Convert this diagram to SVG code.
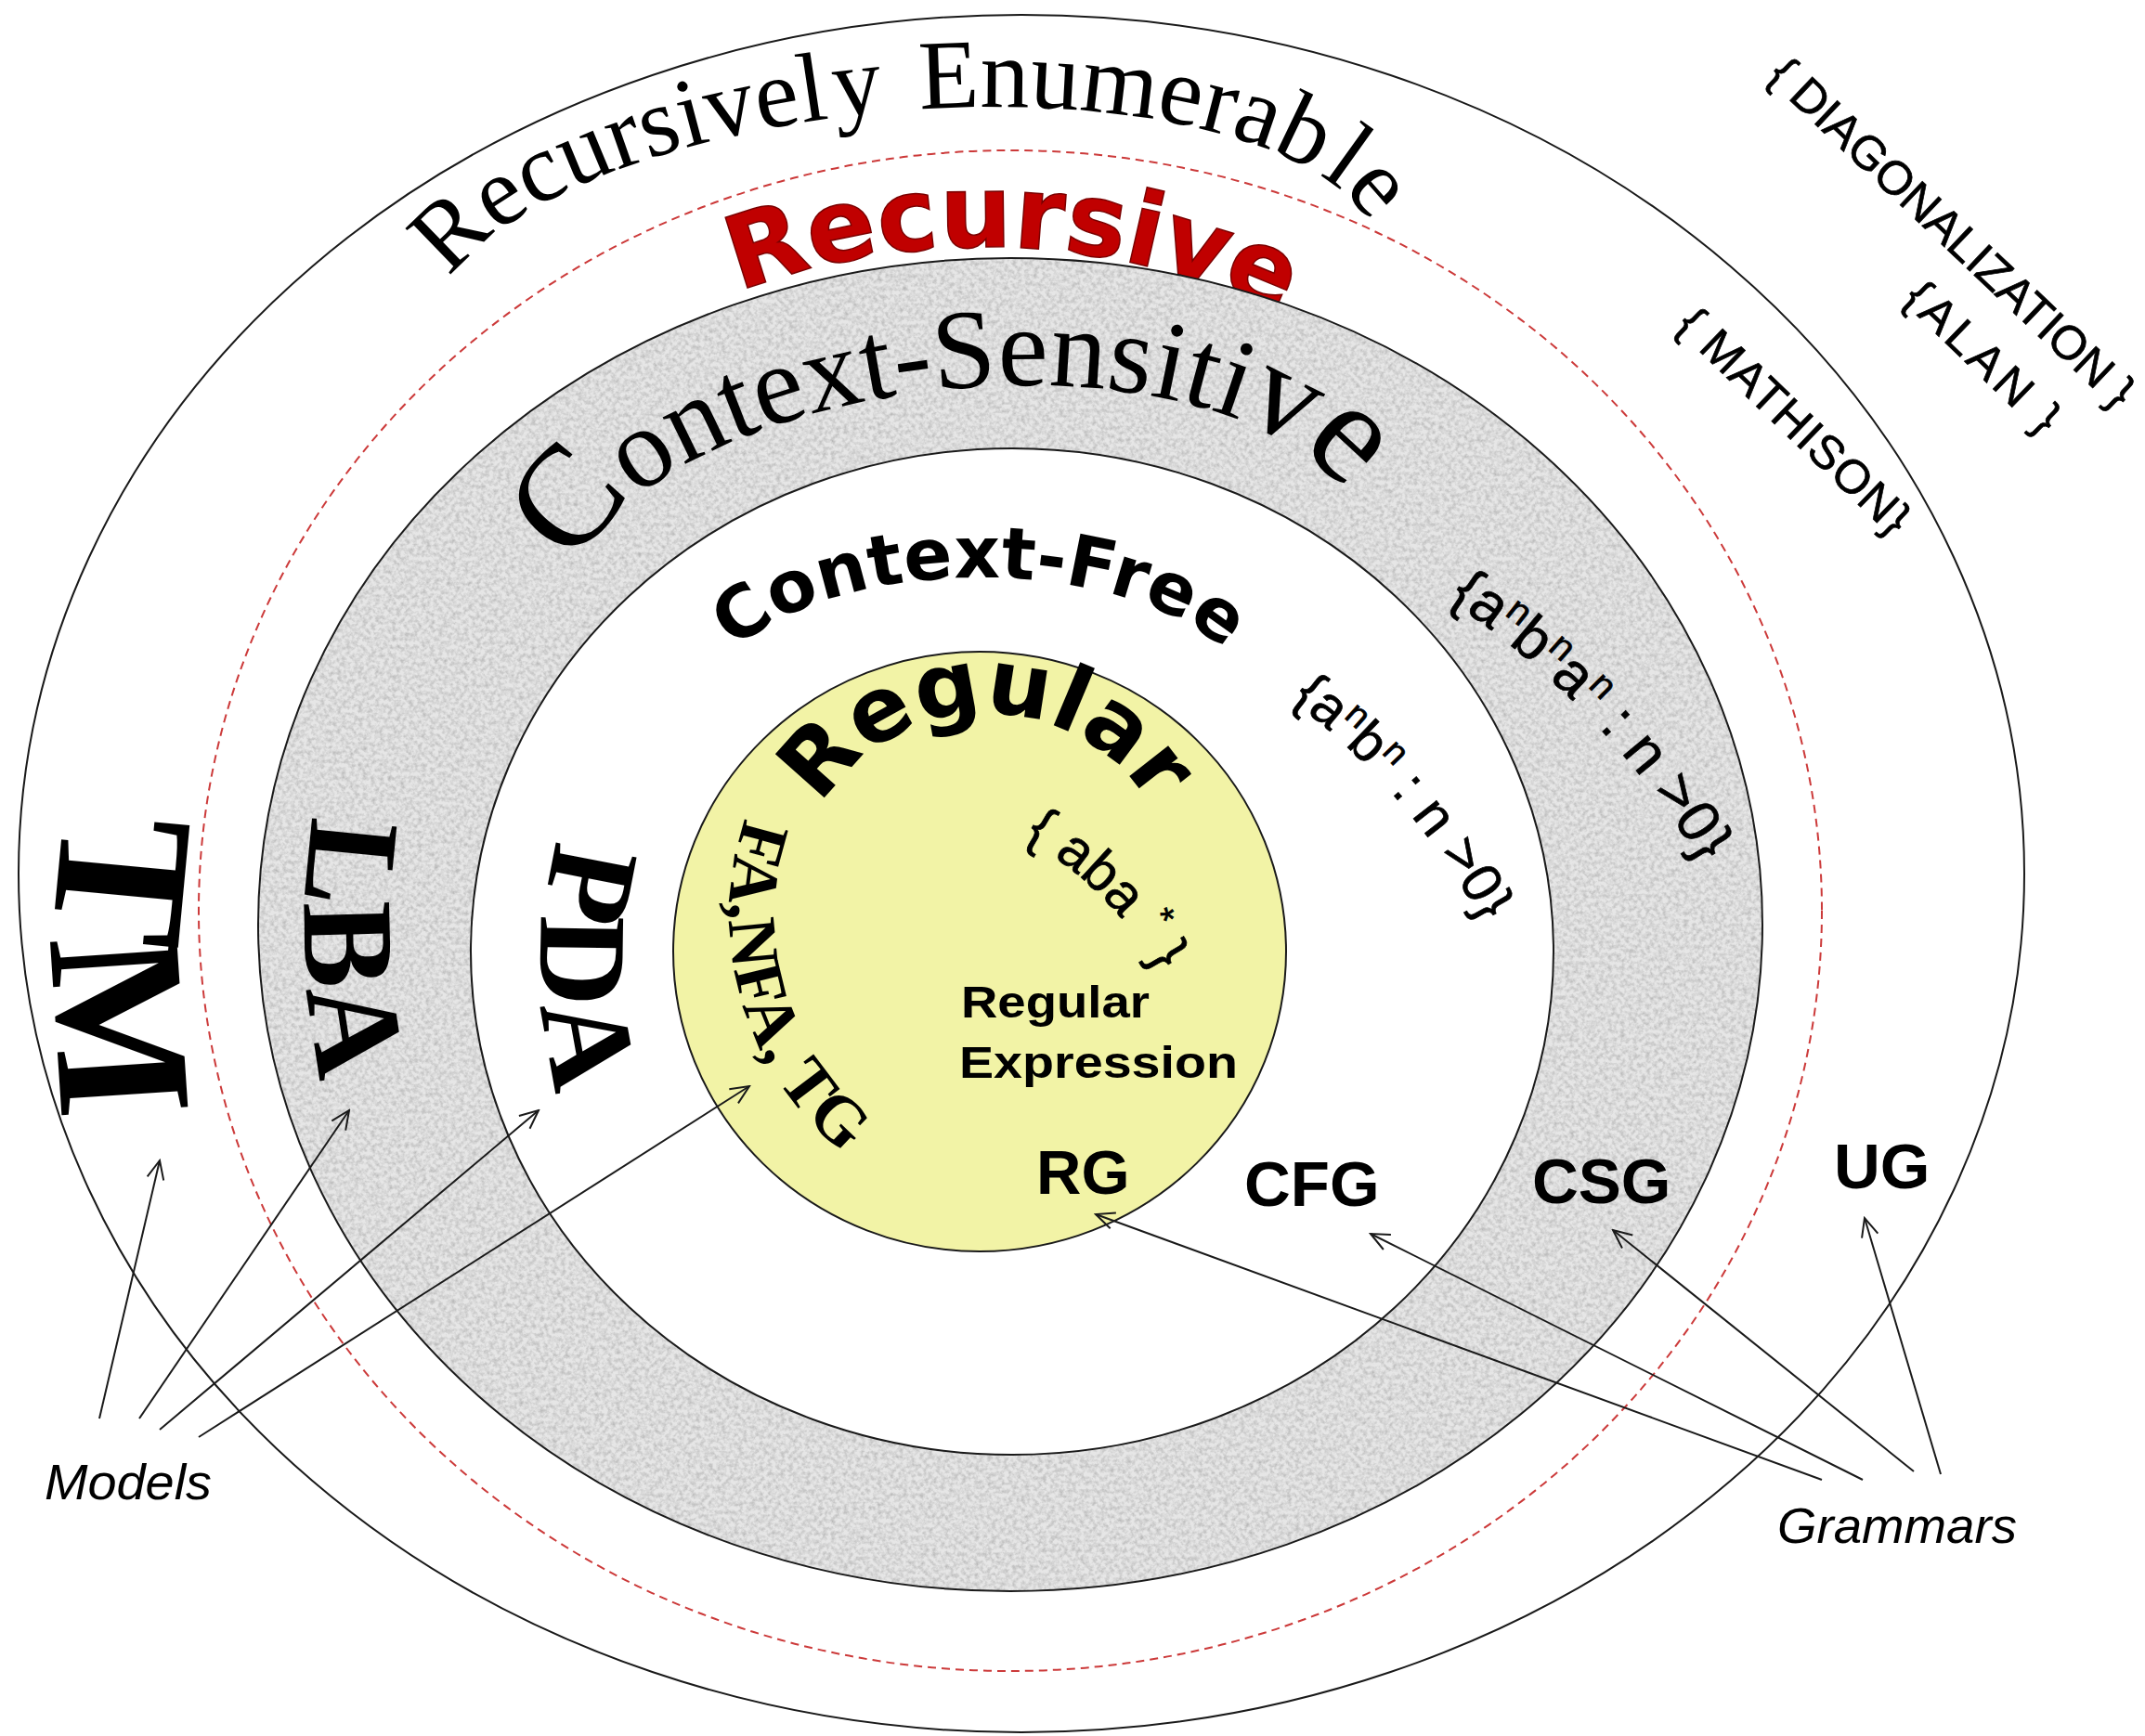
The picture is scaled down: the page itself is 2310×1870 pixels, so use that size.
<svg xmlns="http://www.w3.org/2000/svg" width="2310" height="1870" viewBox="0 0 2310 1870">
  <defs>
    <style>
      .ring{fill:none;stroke:#1a1a1a;stroke-width:2}
      .serif{font-family:"Liberation Serif","Times New Roman",serif;fill:#000}
      .sans{font-family:"Liberation Sans",Arial,sans-serif;fill:#000}
      .small{font-family:"Liberation Sans",Arial,sans-serif;fill:#000;stroke:#000;stroke-width:0.7}
      .heavy{font-family:"DejaVu Sans","Liberation Sans",Arial,sans-serif;font-weight:bold;fill:#000}
      .conn{fill:none;stroke:#1a1a1a;stroke-width:2;marker-end:url(#open)}
      .lbl{font-family:"Liberation Sans",Arial,sans-serif;font-weight:bold;fill:#000}
    </style>
    <marker id="open" viewBox="0 0 24 24" refX="22" refY="12" markerWidth="24" markerHeight="24" markerUnits="userSpaceOnUse" orient="auto">
      <path d="M2 3 L22 12 L2 21" fill="none" stroke="#1a1a1a" stroke-width="2"/>
    </marker>
    <!-- granite-like speckle for the context-sensitive band -->
    <filter id="grain" x="0" y="0" width="1" height="1" color-interpolation-filters="sRGB">
      <feTurbulence type="fractalNoise" baseFrequency="0.22" numOctaves="3" seed="7" result="noise"/>
      <feColorMatrix in="noise" type="matrix" values="0 0 0 0 0.68  0 0 0 0 0.68  0 0 0 0 0.68  1.5 0 0 0 -0.56" result="dark"/>
      <feComposite in="dark" in2="SourceGraphic" operator="in" result="darkIn"/>
      <feMerge><feMergeNode in="SourceGraphic"/><feMergeNode in="darkIn"/></feMerge>
    </filter>
    <!-- baselines for curved labels -->
    <path id="p-re" d="M 465.2 347.1 A 512.7 200.7 -5 0 1 1482.8 258.1"/>
    <path id="p-rec" d="M 419.1 626.4 A 750 750 0 0 1 1717.8 655.8"/>
    <path id="p-cs" d="M 612.3 640.7 A 430 207 -5.7 0 1 1460.7 556.1"/>
    <path id="p-cf" d="M 765.5 738.5 A 294 141 0 0 1 1344.5 738.5"/>
    <path id="p-reg" d="M 857.2 939.9 A 208 208 0 0 1 1266.8 939.9"/>
    <path id="p-tm" d="M 120.8 683.6 A 1042 1042 0 0 0 120.8 1396.4"/>
    <path id="p-lba" d="M 366.6 760.7 A 762 762 0 0 0 382 1281.7"/>
    <path id="p-pda" d="M 612.6 868.3 A 508 508 0 0 0 612.6 1215.7"/>
    <path id="p-fa" d="M 816.2 847.6 A 327.5 327.5 0 0 0 925.2 1254.3"/>
    <path id="p-aba" d="M 1081.3 892.2 A 365 365 0 0 1 1257.8 1068.7"/>
    <path id="p-anbn" d="M 1385 750 A 750 750 0 0 1 1600 1000"/>
    <path id="p-anbnan" d="M 1550 640 A 900 900 0 0 1 1838 940"/>
  </defs>

  <rect width="2310" height="1870" fill="#fff"/>

  <!-- Recursively Enumerable -->
  <g id="recursively-enumerable">
    <ellipse cx="1100" cy="941" rx="1080" ry="925" fill="#fff" stroke="#1a1a1a" stroke-width="2"/>
    <text class="serif" font-size="106"><textPath href="#p-re" startOffset="586" text-anchor="middle">Recursivel<tspan dx="6">y</tspan> <tspan dx="12">Enumerab</tspan><tspan dx="6">le</tspan></textPath></text>
    <text class="serif" font-size="208" font-weight="bold"><textPath href="#p-tm" startOffset="50%" text-anchor="middle">TM</textPath></text>
  </g>

  <!-- Recursive -->
  <g id="recursive">
    <ellipse cx="1088" cy="981" rx="874" ry="819" fill="none" stroke="#cc3a3a" stroke-width="2" stroke-dasharray="9 6"/>
    <text class="heavy" font-size="109" style="fill:#c00000" stroke="#7a0000" stroke-width="1.5"><textPath href="#p-rec" startOffset="799" text-anchor="middle">Recursive</textPath></text>
  </g>

  <!-- Context-Sensitive -->
  <g id="context-sensitive">
    <ellipse cx="1088" cy="996" rx="810" ry="718" fill="#e6e6e6" filter="url(#grain)"/>
    <ellipse class="ring" cx="1088" cy="996" rx="810" ry="718"/>
    <text class="serif"><textPath href="#p-cs" startOffset="50%" text-anchor="middle"><tspan font-size="155">C</tspan><tspan font-size="122">ontext-Sensiti</tspan><tspan font-size="140">v</tspan><tspan font-size="158">e</tspan></textPath></text>
    <text class="serif" font-size="140" font-weight="bold"><textPath href="#p-lba" startOffset="50%" text-anchor="middle">LBA</textPath></text>
    <text class="small" font-size="64"><textPath href="#p-anbnan" startOffset="50%" text-anchor="middle">{a<tspan dy="-22" font-size="40">n</tspan><tspan dy="22">b</tspan><tspan dy="-22" font-size="40">n</tspan><tspan dy="22">a</tspan><tspan dy="-22" font-size="40">n</tspan><tspan dy="22"> : n &gt;0}</tspan></textPath></text>
  </g>

  <!-- Context-Free -->
  <g id="context-free">
    <ellipse cx="1090" cy="1025" rx="583" ry="542" fill="#fff" stroke="#1a1a1a" stroke-width="2"/>
    <text class="heavy" font-size="77"><textPath href="#p-cf" startOffset="50%" text-anchor="middle">Context-Free</textPath></text>
    <text class="serif" font-size="135" font-weight="bold"><textPath href="#p-pda" startOffset="50%" text-anchor="middle">PDA</textPath></text>
    <text class="small" font-size="60"><textPath href="#p-anbn" startOffset="50%" text-anchor="middle">{a<tspan dy="-21" font-size="38">n</tspan><tspan dy="21">b</tspan><tspan dy="-21" font-size="38">n</tspan><tspan dy="21"> : n &gt;0}</tspan></textPath></text>
  </g>

  <!-- Regular -->
  <g id="regular">
    <ellipse cx="1055" cy="1025" rx="330" ry="323" fill="#f2f3a6" stroke="#1a1a1a" stroke-width="2"/>
    <text class="heavy" font-size="97"><textPath href="#p-reg" startOffset="50%" text-anchor="middle">Regular</textPath></text>
    <text class="serif" font-size="74" font-weight="bold"><textPath href="#p-fa" startOffset="36">FA,NFA, TG</textPath></text>
    <text class="small" font-size="60"><textPath href="#p-aba" startOffset="50%" text-anchor="middle">{ aba <tspan dy="-22" font-size="40">*</tspan><tspan dy="22"> }</tspan></textPath></text>
    <text class="lbl" x="1035" y="1096" font-size="48" textLength="203" lengthAdjust="spacingAndGlyphs">Regular</text>
    <text class="lbl" x="1033" y="1161" font-size="48" textLength="300" lengthAdjust="spacingAndGlyphs">Expression</text>
  </g>

  <!-- grammar labels -->
  <g id="rg"><text class="lbl" x="1116" y="1286" font-size="67">RG</text></g>
  <g id="cfg"><text class="lbl" x="1340" y="1299" font-size="69">CFG</text></g>
  <g id="csg"><text class="lbl" x="1650" y="1296" font-size="69">CSG</text></g>
  <g id="ug"><text class="lbl" x="1975" y="1280" font-size="69">UG</text></g>

  <!-- non-recursively-enumerable examples -->
  <g id="non-re">
    <text class="small" font-size="51" text-anchor="middle" x="0" y="18" textLength="520" lengthAdjust="spacing" transform="translate(2103 250) rotate(43.5)">{ DIAGONALIZATION }</text>
    <text class="small" font-size="51" text-anchor="middle" x="0" y="18" textLength="210" lengthAdjust="spacing" transform="translate(2136 384) rotate(44)">{ALAN }</text>
    <text class="small" font-size="51" text-anchor="middle" x="0" y="18" textLength="325" lengthAdjust="spacing" transform="translate(1933 453) rotate(44)">{ MATHISON}</text>
  </g>

  <g id="models"><text class="sans" x="48" y="1615" font-size="54" font-style="italic" textLength="180" lengthAdjust="spacingAndGlyphs">Models</text></g>
  <g id="grammars"><text class="sans" x="1914" y="1662" font-size="54" font-style="italic" textLength="258" lengthAdjust="spacingAndGlyphs">Grammars</text></g>

  <!-- connectors -->
  <g id="connectors">
    <line class="conn" x1="107" y1="1528" x2="172" y2="1250"/>
    <line class="conn" x1="150" y1="1528" x2="376" y2="1196"/>
    <line class="conn" x1="172" y1="1540" x2="580" y2="1196"/>
    <line class="conn" x1="214" y1="1548" x2="807" y2="1170"/>
    <line class="conn" x1="1962" y1="1594" x2="1180" y2="1308"/>
    <line class="conn" x1="2006" y1="1594" x2="1476" y2="1329"/>
    <line class="conn" x1="2061" y1="1585" x2="1737" y2="1325"/>
    <line class="conn" x1="2090" y1="1588" x2="2008" y2="1312"/>
  </g>
</svg>
